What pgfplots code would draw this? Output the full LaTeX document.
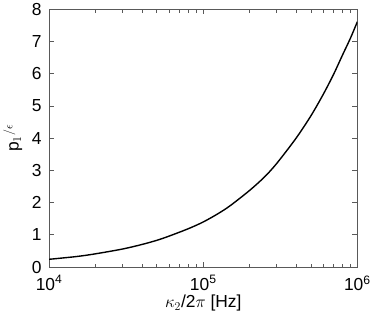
\documentclass[border=0pt]{standalone}
\usepackage{fontspec}
\setmainfont{Liberation Sans}
\usepackage{pgfplots}
\pgfplotsset{compat=1.18}

\begin{document}
\begin{tikzpicture}
\begin{axis}[
  width=310pt, height=259pt,
  scale only axis,
  xmode=log,
  xmin=1e4, xmax=1e6,
  ymin=0, ymax=8,
  xtick={1e4,1e5,1e6},
  xticklabels={10\textsuperscript{4},10\textsuperscript{5},10\textsuperscript{6}},
  ytick={0,1,...,8},
  /pgf/number format/assume math mode=true,
  tick label style={font=\fontsize{17.5}{19}\selectfont},
  label style={font=\fontsize{17.5}{19}\selectfont},
  xticklabel style={yshift=-5pt},
  yticklabel style={xshift=-4pt},
  axis line style={black!65},
  tick style={black!65, line width=0.8pt},
  major tick length=5pt,
  minor tick length=3.5pt,
  xlabel={$\kappa_2$/2$\pi$ [Hz]},
  ylabel={p$_1{}^{/\epsilon}$},
  xlabel style={yshift=2pt},
  ylabel style={yshift=3pt},
]
\addplot[black, line width=1.4pt, smooth] coordinates {
  (1e4,0.24)(1.5e4,0.325)(2e4,0.41)(3e4,0.56)(4e4,0.70)(5e4,0.83)
  (6e4,0.96)(8e4,1.19)(1e5,1.40)(1.25e5,1.66)(1.5e5,1.91)(2e5,2.38)
  (2.5e5,2.80)(3e5,3.22)(4e5,4.00)(5e5,4.70)(6e5,5.36)(7e5,5.98)
  (8e5,6.58)(9e5,7.10)(1e6,7.62)
};
\end{axis}
\end{tikzpicture}
\end{document}
